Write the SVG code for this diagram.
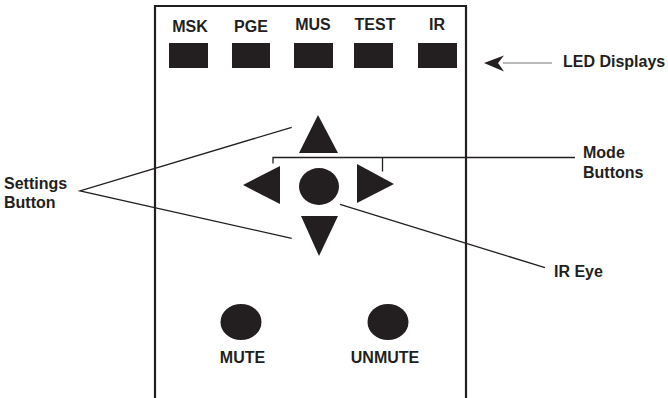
<svg xmlns="http://www.w3.org/2000/svg" width="668" height="398" viewBox="0 0 668 398">
<style>
text{font-family:"Liberation Sans",Arial,sans-serif;font-weight:bold;font-size:16px;fill:#231f20}
.mid{text-anchor:middle}
.shape{fill:#231f20}
.conn{stroke:#231f20;stroke-width:1.3;fill:none}
</style>
<rect width="668" height="398" fill="#ffffff"/>
<g id="panel">
<path d="M155,400 V6 H466 V400" fill="none" stroke="#231f20" stroke-width="2.2"/>
</g>
<g id="led-displays">
<text class="mid" x="190" y="32">MSK</text>
<text class="mid" x="251" y="32">PGE</text>
<text class="mid" x="313" y="29.5">MUS</text>
<text class="mid" x="375" y="29.5">TEST</text>
<text class="mid" x="437" y="29.5">IR</text>
<rect class="shape" x="169" y="43" width="39" height="25"/>
<rect class="shape" x="232" y="43" width="38" height="25"/>
<rect class="shape" x="294" y="43" width="39" height="25"/>
<rect class="shape" x="354" y="43" width="39" height="25"/>
<rect class="shape" x="418" y="43" width="39" height="25"/>
</g>
<g id="mode-buttons">
<polygon class="shape" points="318,115 299,153 338,153"/>
<polygon class="shape" points="243,185 280,166 280,204"/>
<polygon class="shape" points="357,164 357,203 394,184"/>
<polygon class="shape" points="301,216 338,216 319,256"/>
</g>
<g id="ir-eye">
<ellipse class="shape" cx="319" cy="186.5" rx="20" ry="18.5"/>
</g>
<g id="mute">
<ellipse class="shape" cx="241" cy="322" rx="20.5" ry="18"/>
<text class="mid" x="242.5" y="363">MUTE</text>
</g>
<g id="unmute">
<ellipse class="shape" cx="388" cy="322" rx="20.5" ry="18"/>
<text class="mid" x="385" y="363">UNMUTE</text>
</g>
<g id="labels">
<text x="563" y="67">LED Displays</text>
<text x="4" y="189">Settings</text>
<text x="4" y="208">Button</text>
<text x="583" y="158">Mode</text>
<text x="583" y="178">Buttons</text>
<text x="554" y="277">IR Eye</text>
</g>
<g id="connectors">
<line x1="503" y1="63" x2="552" y2="63" stroke="#555" stroke-width="0.8"/>
<path class="shape" d="M484,63 L504,55.5 L498,63 L504,71.5 Z"/>
<polyline class="conn" points="291.7,127.3 80,191 291.7,238.3"/>
<path class="conn" d="M273,163.5 V157.5 H575 M382.5,157.5 V171.5"/>
<line class="conn" x1="340" y1="204.3" x2="545" y2="267.7"/>
</g>
</svg>
